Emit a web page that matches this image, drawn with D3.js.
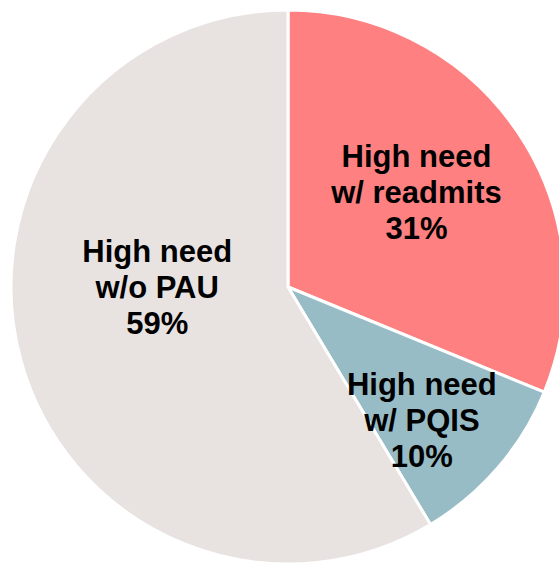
<!DOCTYPE html>
<html>
<head>
<meta charset="utf-8">
<script src="https://cdn.jsdelivr.net/npm/d3@7"></script>
<style>
  body { margin: 0; background: #fff; }
  svg { display: block; }
</style>
</head>
<body>
<div id="chart"></div>
<script>
// data (slice sizes estimated from the angles, labels rounded)
const categories = ["High need w/ readmits", "High need w/ PQIS", "High need w/o PAU"];
const labelLines = [["High need", "w/ readmits"], ["High need", "w/ PQIS"], ["High need", "w/o PAU"]];
const values = [31.2, 10.2, 58.6];
const colors = ["#ff8080", "#97bcc6", "#e8e3e0"];

// set the dimensions of the graph
const width = 559, height = 563;
const cx = 288, cy = 287, radius = 277;

// small per-slice nudges so labels sit like the original
const nudge = [[-5, -6], [12, 28], [24, -43]];

const svg = d3.select("#chart")
  .append("svg")
    .attr("width", width)
    .attr("height", height)
  .append("g")
    .attr("transform", `translate(${cx},${cy})`);

const pie = d3.pie()
  .sort(null)
  .value(d => d);

const arcs = pie(values);

const arc = d3.arc()
  .innerRadius(0)
  .outerRadius(radius);

const labelArc = d3.arc()
  .innerRadius(radius * 0.58)
  .outerRadius(radius * 0.58);

svg.selectAll("path.slice")
  .data(arcs)
  .join("path")
    .attr("class", "slice")
    .attr("d", arc)
    .attr("fill", (d, i) => colors[i])
    .attr("stroke", "#fff")
    .attr("stroke-width", 3)
    .attr("stroke-linejoin", "round");

// labels
const labels = svg.selectAll("text.lbl")
  .data(arcs)
  .join("text")
    .attr("class", "lbl")
    .attr("transform", (d, i) => {
      const c = labelArc.centroid(d);
      return `translate(${c[0] + nudge[i][0]},${c[1] + nudge[i][1]})`;
    })
    .attr("text-anchor", "middle")
    .style("font-family", "'Liberation Sans', Arial, sans-serif")
    .style("font-weight", "bold")
    .style("font-size", "31px")
    .attr("fill", "#000");

labels.each(function(d, i) {
  const lines = labelLines[i].concat([Math.round(values[i]) + "%"]);
  d3.select(this).selectAll("tspan")
    .data(lines)
    .join("tspan")
      .attr("x", 0)
      .attr("y", (t, j) => (j - 1) * 36 + 11)
      .text(t => t);
});
</script>
</body>
</html>
